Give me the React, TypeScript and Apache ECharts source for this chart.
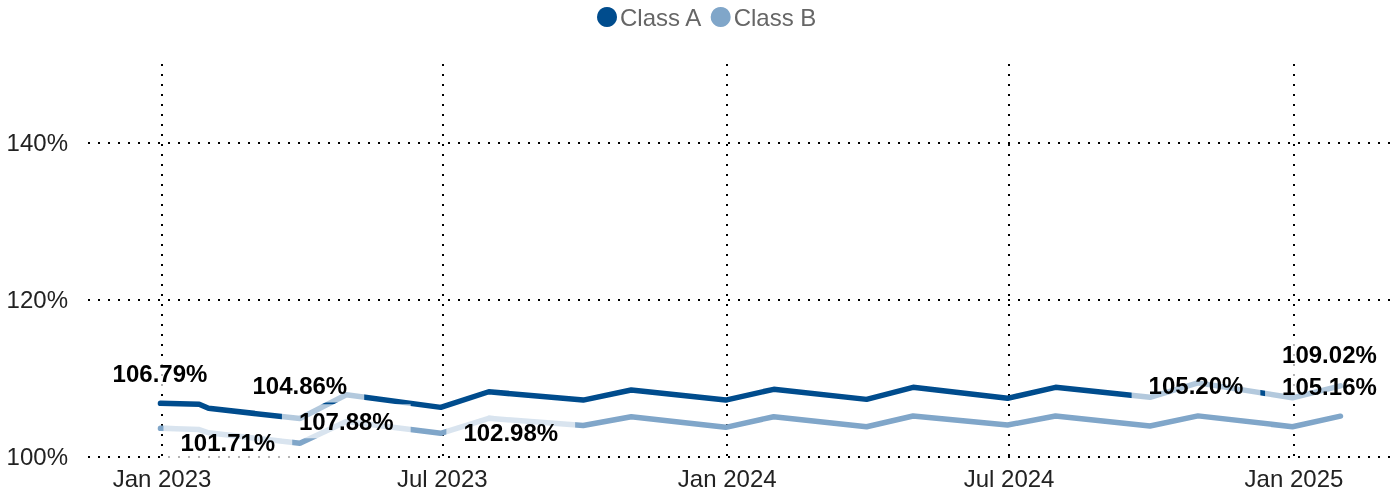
import { useEffect, useRef } from 'react';
import * as echarts from 'echarts';

const dates = [
  '2022-12-31', '2023-01-25', '2023-01-31', '2023-03-31', '2023-04-30',
  '2023-06-30', '2023-07-31', '2023-09-30', '2023-10-31', '2023-12-31',
  '2024-01-31', '2024-03-31', '2024-04-30', '2024-06-30', '2024-07-31',
  '2024-09-30', '2024-10-31', '2024-12-31', '2025-01-31',
];
const classA = [
  106.79, 106.67, 106.16, 104.86, 107.88,
  106.28, 108.27, 107.21, 108.49, 107.21,
  108.58, 107.30, 108.83, 107.43, 108.83,
  107.56, 109.4, 107.5, 109.02,
];
const classB = [
  103.61, 103.45, 103.05, 101.71, 104.48,
  102.98, 104.89, 103.97, 105.09, 103.74,
  105.09, 103.82, 105.18, 104.03, 105.18,
  103.91, 105.20, 103.82, 105.16,
];
const seriesNames = ['Class A', 'Class B'];
const xTickDates = ['2023-01-01', '2023-07-01', '2024-01-01', '2024-07-01', '2025-01-01'];
const monthNames = ['Jan', 'Feb', 'Mar', 'Apr', 'May', 'Jun', 'Jul', 'Aug', 'Sep', 'Oct', 'Nov', 'Dec'];

// indices of labelled points, per series
const labelledA = [0, 3, 4, 18];
const labelledB = [3, 5, 16, 18];

// label placement (offset of label centre from its point, px)
const placementA: Record<number, number[]> = { 0: [-0.5, -30], 3: [0, -33], 4: [0, 26.5], 18: [-11, -31.5] };
const placementB: Record<number, number[]> = { 3: [-72, -1], 5: [70, -1], 16: [-2, -30], 18: [-11, -29.5] };

const FONT = '"Liberation Sans", Arial, Helvetica, sans-serif';
const DAY = 86400000;

function toTs(s: string) {
  const [y, m, d] = s.split('-').map(Number);
  return Date.UTC(y, m - 1, d);
}

export default function App() {
  const ref = useRef<HTMLDivElement>(null);
  useEffect(() => {
    if (!ref.current) return;
    const chart = echarts.init(ref.current, null, { renderer: 'svg' });
    const xTicks = xTickDates.map(toTs);
    const xMin = toTs('2023-01-01') - 47.8 * DAY;
    const xMax = toTs('2025-01-01') + 62 * DAY;

    const labelData: any[] = [];
    labelledA.forEach((i) => labelData.push({ value: [toTs(dates[i]), classA[i]], label: { offset: placementA[i] } }));
    labelledB.forEach((i) => labelData.push({ value: [toTs(dates[i]), classB[i]], label: { offset: placementB[i] } }));

    const grid = { color: '#000', width: 2, type: [2, 8] };

    chart.setOption({
      animation: false,
      color: ['#004c8d', '#80a6c9'],
      legend: {
        data: seriesNames,
        left: 592,
        top: 0,
        icon: 'circle',
        itemWidth: 20,
        itemHeight: 20,
        itemGap: 8,
        textStyle: { fontSize: 24, color: '#666', fontFamily: FONT, padding: [0, 0, 0, -2] },
      },
      grid: { left: 88, right: 0, top: 64, bottom: 43.3 },
      xAxis: {
        type: 'value',
        min: xMin,
        max: xMax,
        axisLine: { show: false },
        axisTick: { show: false, customValues: xTicks },
        axisLabel: {
          customValues: xTicks,
          fontSize: 24,
          color: '#222',
          fontFamily: FONT,
          margin: 10,
          showMinLabel: true,
          showMaxLabel: true,
          formatter: (v: number) => {
            const d = new Date(v);
            return monthNames[d.getUTCMonth()] + ' ' + d.getUTCFullYear();
          },
        },
        splitLine: { show: true, lineStyle: grid },
      },
      yAxis: {
        type: 'value',
        min: 100,
        max: 150,
        interval: 20,
        axisLine: { show: false },
        axisTick: { show: false },
        axisLabel: {
          fontSize: 24,
          color: '#222',
          fontFamily: FONT,
          margin: 20,
          showMaxLabel: false,
          formatter: (v: number) => v + '%',
        },
        splitLine: { show: true, showMaxLine: false, lineStyle: grid },
      },
      series: [
        {
          name: seriesNames[0],
          type: 'line',
          data: dates.map((d, i) => [toTs(d), classA[i]]),
          showSymbol: false,
          symbol: 'circle',
          lineStyle: { width: 5.5, cap: 'round' },
          z: 2,
        },
        {
          name: seriesNames[1],
          type: 'line',
          data: dates.map((d, i) => [toTs(d), classB[i]]),
          showSymbol: false,
          symbol: 'circle',
          lineStyle: { width: 5.5, cap: 'round' },
          z: 2,
        },
        {
          name: 'labels',
          type: 'scatter',
          data: labelData,
          symbolSize: 0,
          itemStyle: { color: 'transparent', opacity: 1 },
          silent: true,
          z: 10,
          label: {
            show: true,
            position: 'inside',
            formatter: (p: any) => p.value[1].toFixed(2) + '%',
            fontSize: 24,
            fontWeight: 'bold',
            fontFamily: FONT,
            color: '#000',
            textBorderWidth: 0,
            backgroundColor: 'rgba(255,255,255,0.7)',
            padding: [5, 17],
          },
        },
      ],
    });
    return () => chart.dispose();
  }, []);
  return <div ref={ref} style={{ position: 'fixed', left: 0, top: 0, width: 1390, height: 500 }} />;
}
